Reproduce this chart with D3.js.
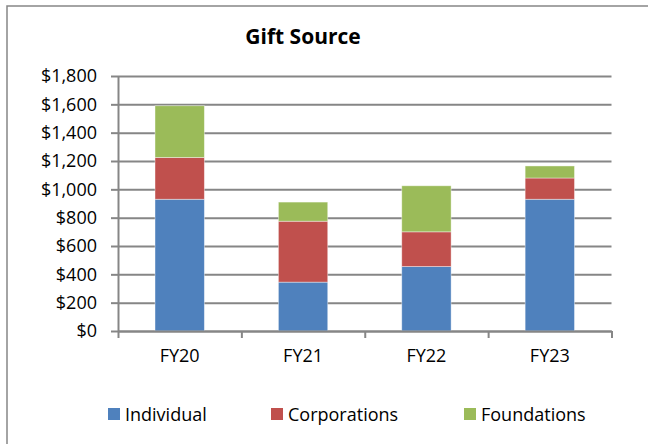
<!DOCTYPE html>
<html>
<head>
<meta charset="utf-8">
<script src="https://cdn.jsdelivr.net/npm/d3@7/dist/d3.min.js"></script>
<style>
    body { margin: 0; background: #fff; }
    svg { font-family: "Open Sans", sans-serif; }
    .axis text { font-family: "Open Sans", sans-serif; font-size: 18px; fill: #000; }
    .axis path, .axis line { stroke: #868686; stroke-width: 2; }
    .grid line { stroke: #868686; stroke-width: 2; }
    .grid path { display: none; }
</style>
</head>
<body>
<div id="chart"></div>
<script>
    var years = ["FY20", "FY21", "FY22", "FY23"];
    var seriesNames = ["Individual", "Corporations", "Foundations"];
    var individual = [930, 345, 455, 930];
    var corporations = [295, 430, 245, 150];
    var foundations = [365, 135, 325, 85];
    var yTicks = [0, 200, 400, 600, 800, 1000, 1200, 1400, 1600, 1800];
    var colors = ["#4F81BD", "#C0504D", "#9BBB59"];

    var W = 648, H = 444;
    var plot = {left: 118, right: 611.5, top: 76, bottom: 331};

    var svg = d3.select("#chart").append("svg")
        .attr("width", W)
        .attr("height", H);

    // chart area border (right/bottom edges fall outside the picture)
    svg.append("rect")
        .attr("x", 7).attr("y", 6)
        .attr("width", 700).attr("height", 500)
        .attr("fill", "#fff")
        .attr("stroke", "#868686")
        .attr("stroke-width", 1.5);

    var rows = years.map(function (y, i) {
        return {year: y, Individual: individual[i], Corporations: corporations[i], Foundations: foundations[i]};
    });
    var stacked = d3.stack().keys(seriesNames)(rows);

    var x = d3.scaleBand().domain(years).range([plot.left, plot.right]).paddingInner(0.6).paddingOuter(0.3);
    var y = d3.scaleLinear().domain([0, 1800]).range([plot.bottom, plot.top]);

    // gridlines
    svg.append("g")
        .attr("class", "grid")
        .attr("transform", "translate(" + plot.left + ",0)")
        .call(d3.axisLeft(y).tickValues(yTicks).tickSize(-(plot.right - plot.left)).tickFormat(""));

    // bars
    svg.selectAll("g.series").data(stacked).enter()
        .append("g")
        .attr("class", "series")
        .attr("fill", function (d, i) { return colors[i]; })
        .selectAll("rect").data(function (d) { return d; }).enter()
        .append("rect")
        .attr("x", function (d) { return x(d.data.year); })
        .attr("width", x.bandwidth())
        .attr("y", function (d) { return y(d[1]); })
        .attr("height", function (d) { return y(d[0]) - y(d[1]); })
        .attr("stroke", "rgba(255,255,255,0.5)")
        .attr("stroke-width", 0.8);

    // y axis
    var fmt = d3.format("$,");
    svg.append("g")
        .attr("class", "y axis")
        .attr("transform", "translate(" + plot.left + ",0)")
        .call(d3.axisLeft(y).tickValues(yTicks).tickSize(7).tickSizeOuter(0).tickPadding(14)
            .tickFormat(function (d) { return fmt(d); }));

    // x axis: ticks between categories
    var xb = d3.scaleLinear().domain([0, years.length]).range([plot.left, plot.right]);
    var xAxisG = svg.append("g")
        .attr("class", "x axis")
        .attr("transform", "translate(0," + plot.bottom + ")");
    xAxisG.call(d3.axisBottom(xb).tickValues(d3.range(years.length + 1)).tickSize(7).tickSizeOuter(0).tickFormat(""));
    xAxisG.selectAll("text.cat").data(years).enter()
        .append("text")
        .attr("class", "cat")
        .attr("x", function (d) { return x(d) + x.bandwidth() / 2; })
        .attr("y", 31)
        .attr("text-anchor", "middle")
        .text(function (d) { return d; });

    // title
    svg.append("text")
        .attr("x", 303).attr("y", 44)
        .attr("text-anchor", "middle")
        .attr("font-size", "21px")
        .attr("font-weight", "bold")
        .text("Gift Source");

    // legend
    var legendX = [108, 271, 464];
    var lg = svg.selectAll("g.legend").data(seriesNames).enter()
        .append("g")
        .attr("class", "legend")
        .attr("transform", function (d, i) { return "translate(" + legendX[i] + ",408)"; });
    lg.append("rect")
        .attr("width", 12).attr("height", 12)
        .attr("fill", function (d, i) { return colors[i]; });
    lg.append("text")
        .attr("x", 17).attr("y", 12.5)
        .attr("font-size", "18px")
        .text(function (d) { return d; });
</script>
</body>
</html>
